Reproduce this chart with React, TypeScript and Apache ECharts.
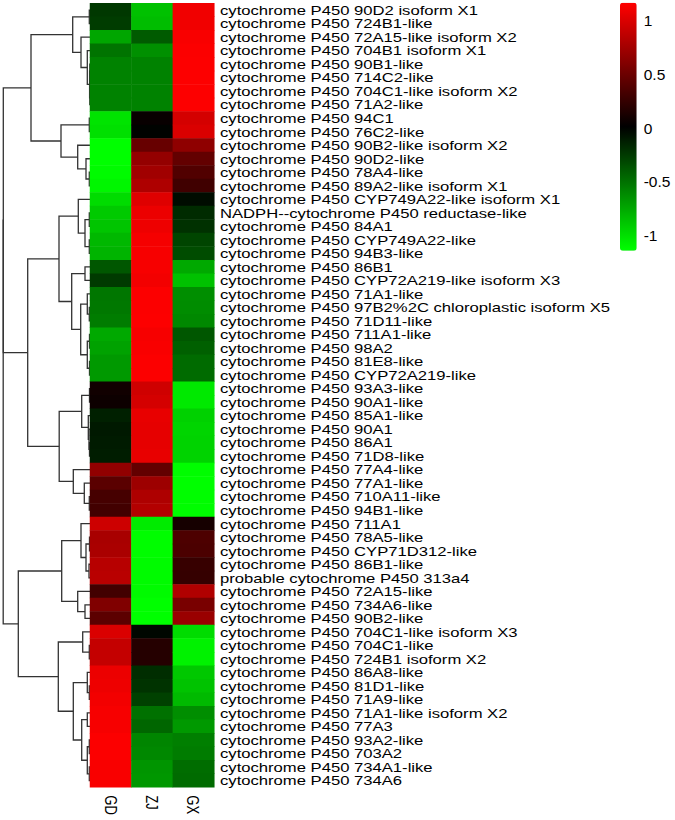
import React, { useEffect, useRef } from "react";
import * as echarts from "echarts";

// ---------- data ----------
const rowLabels = [
  "cytochrome P450 90D2 isoform X1",
  "cytochrome P450 724B1-like",
  "cytochrome P450 72A15-like isoform X2",
  "cytochrome P450 704B1 isoform X1",
  "cytochrome P450 90B1-like",
  "cytochrome P450 714C2-like",
  "cytochrome P450 704C1-like isoform X2",
  "cytochrome P450 71A2-like",
  "cytochrome P450 94C1",
  "cytochrome P450 76C2-like",
  "cytochrome P450 90B2-like isoform X2",
  "cytochrome P450 90D2-like",
  "cytochrome P450 78A4-like",
  "cytochrome P450 89A2-like isoform X1",
  "cytochrome P450 CYP749A22-like isoform X1",
  "NADPH--cytochrome P450 reductase-like",
  "cytochrome P450 84A1",
  "cytochrome P450 CYP749A22-like",
  "cytochrome P450 94B3-like",
  "cytochrome P450 86B1",
  "cytochrome P450 CYP72A219-like isoform X3",
  "cytochrome P450 71A1-like",
  "cytochrome P450 97B2%2C chloroplastic isoform X5",
  "cytochrome P450 71D11-like",
  "cytochrome P450 711A1-like",
  "cytochrome P450 98A2",
  "cytochrome P450 81E8-like",
  "cytochrome P450 CYP72A219-like",
  "cytochrome P450 93A3-like",
  "cytochrome P450 90A1-like",
  "cytochrome P450 85A1-like",
  "cytochrome P450 90A1",
  "cytochrome P450 86A1",
  "cytochrome P450 71D8-like",
  "cytochrome P450 77A4-like",
  "cytochrome P450 77A1-like",
  "cytochrome P450 710A11-like",
  "cytochrome P450 94B1-like",
  "cytochrome P450 711A1",
  "cytochrome P450 78A5-like",
  "cytochrome P450 CYP71D312-like",
  "cytochrome P450 86B1-like",
  "probable cytochrome P450 313a4",
  "cytochrome P450 72A15-like",
  "cytochrome P450 734A6-like",
  "cytochrome P450 90B2-like",
  "cytochrome P450 704C1-like isoform X3",
  "cytochrome P450 704C1-like",
  "cytochrome P450 724B1 isoform X2",
  "cytochrome P450 86A8-like",
  "cytochrome P450 81D1-like",
  "cytochrome P450 71A9-like",
  "cytochrome P450 71A1-like isoform X2",
  "cytochrome P450 77A3",
  "cytochrome P450 93A2-like",
  "cytochrome P450 703A2",
  "cytochrome P450 734A1-like",
  "cytochrome P450 734A6",
];

const columns = ["GD", "ZJ", "GX"];

const gdValues = [
  -0.24, -0.26, -0.74, -0.51, -0.577, -0.577, -0.577, -0.577, -1.02, -1.0,
  -1.14, -1.14, -1.12, -1.1, -0.98, -0.9, -0.88, -0.82, -0.8, -0.38,
  -0.25, -0.52, -0.53, -0.55, -0.75, -0.72, -0.68, -0.68, 0.09, 0.07,
  -0.13, -0.1, -0.11, -0.12, 0.67, 0.42, 0.33, 0.31, 0.94, 0.77,
  0.78, 0.84, 0.85, 0.31, 0.59, 0.43, 1.0, 0.9, 0.9, 1.08,
  1.09, 1.11, 1.13, 1.13, 1.15, 1.15, 1.14, 1.14,
];

const zjValues = [
  -0.86, -0.84, -0.4, -0.64, -0.577, -0.577, -0.577, -0.577, 0.05, 0.0,
  0.48, 0.68, 0.74, 0.8, 1.02, 1.08, 1.09, 1.12, 1.13, 1.13,
  1.11, 1.15, 1.15, 1.155, 1.13, 1.14, 1.15, 1.15, 0.95, 0.97,
  1.06, 1.05, 1.05, 1.06, 0.46, 0.72, 0.8, 0.82, -1.05, -1.13,
  -1.13, -1.12, -1.12, -1.12, -1.15, -1.14, -0.02, 0.18, 0.18, -0.19,
  -0.22, -0.28, -0.5, -0.45, -0.59, -0.6, -0.66, -0.67,
];

const gxValues = [
  1.1, 1.1, 1.14, 1.15, 1.155, 1.155, 1.155, 1.155, 0.97, 1.0,
  0.66, 0.46, 0.38, 0.3, -0.04, -0.18, -0.21, -0.3, -0.33, -0.75,
  -0.86, -0.63, -0.62, -0.6, -0.38, -0.42, -0.47, -0.47, -1.04, -1.04,
  -0.93, -0.95, -0.94, -0.94, -1.13, -1.14, -1.13, -1.13, 0.11, 0.36,
  0.35, 0.26, 0.25, 0.81, 0.56, 0.71, -0.98, -1.08, -1.08, -0.89,
  -0.87, -0.83, -0.63, -0.68, -0.56, -0.55, -0.48, -0.47,
];

// hierarchical clustering merges (R hclust style: negative = leaf row, positive = earlier merge)
const mergePairs = [
  [-1, -2], [-5, -6], [-7, -8], [2, 3], [-4, 4], [-3, 5], [1, 6],
  [-9, -10], [-13, -14], [-12, 9], [-11, 10], [8, 11], [7, 12],
  [-16, -17], [-18, -19], [14, 15], [-15, 16], [-20, -21], [-23, -24],
  [-22, 19], [-25, -26], [-27, -28], [21, 22], [20, 23], [18, 24], [17, 25],
  [-29, -30], [-33, -34], [-32, 28], [-31, 29], [27, 30], [-37, -38],
  [-36, 32], [-35, 33], [31, 34], [26, 35],
  [-40, -41], [-42, -43], [37, 38], [-39, 39], [-45, -46], [-44, 41], [40, 42],
  [-48, -49], [-47, 44], [-51, -52], [-50, 46], [-53, -54], [-55, -56],
  [-57, -58], [49, 50], [48, 51], [47, 52], [45, 53], [43, 54],
  [13, 36], [56, 55],
];

const mergeHeights = [
  0.07, 0.02, 0.02, 0.04, 0.27, 0.9, 1.73,
  0.07, 0.07, 0.4, 1.23, 2.9, 5.9,
  0.07, 0.07, 0.5, 1.17, 0.5, 0.07,
  0.27, 0.05, 0.05, 0.27, 0.93, 1.83, 3.1,
  0.05, 0.05, 0.1, 0.17, 0.83, 0.07,
  0.57, 1.67, 3.08, 6.23,
  0.05, 0.1, 0.4, 0.9, 0.5, 1.23, 2.83,
  0.07, 0.73, 0.07, 0.27, 0.27, 0.07,
  0.07, 0.27, 0.83, 1.67, 3.17, 7.17,
  8.67, 8.68,
];

const keyTicks = [-1, -0.5, 0, 0.5, 1];
const keyMin = -1.14;
const keyMax = 1.165;

const FONT = '"Liberation Sans", Arial, Helvetica, sans-serif';

export default function App() {
  const ref = useRef<HTMLDivElement>(null);

  useEffect(() => {
    const chart = echarts.init(ref.current!, null, { renderer: "svg" });
    const n = rowLabels.length;

    const cols = [gdValues, zjValues, gxValues];
    const heatData: number[][] = [];
    cols.forEach((arr, c) => arr.forEach((v, r) => heatData.push([c, r, v])));

    const nodeY: number[] = [];
    const nodeH: number[] = [];
    const pos = (id: number): [number, number] =>
      id < 0 ? [-id - 1, 0] : [nodeY[id - 1], nodeH[id - 1]];
    const links: number[][] = [];
    mergePairs.forEach(([a, b], k) => {
      const [ya, ha] = pos(a);
      const [yb, hb] = pos(b);
      const h = mergeHeights[k];
      nodeY.push((ya + yb) / 2);
      nodeH.push(h);
      links.push([h, ya, yb, ha, hb]);
    });

    const top = 3.3;
    const gridH = 784;
    const scaleStretch = 1.28;

    chart.setOption({
      animation: false,
      backgroundColor: "#ffffff",
      textStyle: { fontFamily: FONT },
      grid: [
        { left: 0, top, width: 90, height: gridH },
        { left: 90, top, width: 124.3, height: gridH },
        { left: 620, top: 2.7, width: 16.7, height: 248 },
      ],
      xAxis: [
        { type: "value", gridIndex: 0, min: 0, max: 9, inverse: true, show: false },
        { type: "category", gridIndex: 1, data: columns, show: false },
        { type: "value", gridIndex: 2, min: 0, max: 1, show: false },
      ],
      yAxis: [
        { type: "value", gridIndex: 0, min: -0.5, max: n - 0.5, inverse: true, show: false },
        { type: "category", gridIndex: 1, data: rowLabels, inverse: true, show: false },
        {
          type: "value",
          gridIndex: 2,
          min: keyMin,
          max: keyMax,
          position: "right",
          axisLine: { show: false },
          axisTick: { show: false },
          splitLine: { show: false },
          axisLabel: {
            customValues: keyTicks,
            fontSize: 15.5,
            color: "#000",
            margin: 7,
            fontFamily: FONT,
          },
        },
      ],
      visualMap: {
        type: "continuous",
        min: keyMin,
        max: keyMax,
        seriesIndex: 1,
        left: 620,
        top: 2.7,
        itemWidth: 16.7,
        itemHeight: 248,
        padding: 0,
        calculable: false,
        hoverLink: false,
        inRange: { color: ["#00ff00", "#000000", "#ff0000"] },
      },
      series: [
        {
          type: "custom",
          xAxisIndex: 0,
          yAxisIndex: 0,
          silent: true,
          data: links,
          encode: { x: [0, 3, 4], y: [1, 2] },
          renderItem: (_params: any, api: any) => {
            const h = api.value(0);
            const ya = api.value(1);
            const yb = api.value(2);
            const ha = api.value(3);
            const hb = api.value(4);
            return {
              type: "polyline",
              shape: {
                points: [
                  api.coord([ha, ya]),
                  api.coord([h, ya]),
                  api.coord([h, yb]),
                  api.coord([hb, yb]),
                ],
              },
              style: { stroke: "#333333", lineWidth: 1.3, fill: "none" },
            };
          },
        },
        {
          type: "heatmap",
          xAxisIndex: 1,
          yAxisIndex: 1,
          data: heatData,
          silent: true,
          emphasis: { disabled: true },
          itemStyle: { borderWidth: 0 },
        },
        {
          type: "custom",
          xAxisIndex: 1,
          yAxisIndex: 1,
          silent: true,
          data: rowLabels.map((_, i) => [columns.length - 1, i]),
          encode: { x: 0, y: 1 },
          renderItem: (params: any, api: any) => {
            const c = api.coord([api.value(0), api.value(1)]);
            const bw = api.size([1, 1])[0];
            return {
              type: "text",
              x: c[0] + bw / 2 + 5.7,
              y: c[1],
              scaleX: scaleStretch,
              style: {
                text: rowLabels[params.dataIndex],
                fontSize: 13,
                fontFamily: FONT,
                fill: "#000",
                align: "left",
                verticalAlign: "middle",
              },
            };
          },
        },
        {
          type: "custom",
          xAxisIndex: 1,
          yAxisIndex: 1,
          silent: true,
          data: columns.map((_, c) => [c, n - 1]),
          encode: { x: 0, y: 1 },
          renderItem: (params: any, api: any) => {
            const c = api.coord([api.value(0), api.value(1)]);
            const bh = api.size([1, 1])[1];
            return {
              type: "text",
              x: c[0],
              y: c[1] + bh / 2 + 8,
              rotation: -Math.PI / 2,
              scaleY: scaleStretch,
              style: {
                text: columns[params.dataIndex],
                fontSize: 13,
                fontFamily: FONT,
                fill: "#000",
                align: "left",
                verticalAlign: "middle",
              },
            };
          },
        },
      ],
    });

    return () => chart.dispose();
  }, []);

  return (
    <div
      ref={ref}
      style={{ position: "absolute", left: 0, top: 0, width: 675, height: 820 }}
    />
  );
}
